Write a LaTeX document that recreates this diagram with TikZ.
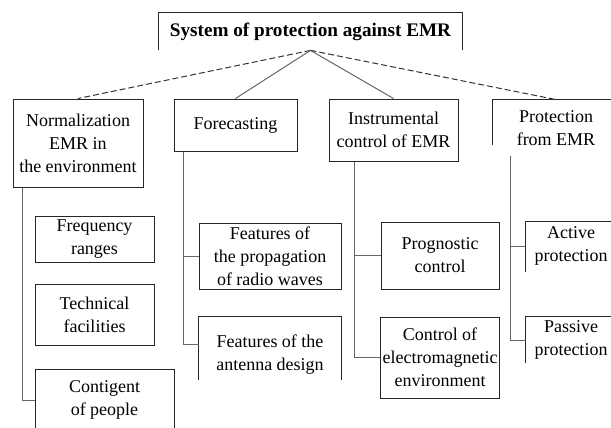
\documentclass[tikz,border=0pt]{standalone}
\usepackage{fontspec}
\setmainfont{Liberation Serif}

\begin{document}
\begin{tikzpicture}[x=0.5pt,y=-0.5pt,
        font=\fontsize{9}{11.5}\selectfont,inner sep=1pt,
        every node/.style={align=center},
        box/.style={draw=black!85,line width=0.5pt},
        link/.style={draw=black!60,line width=0.5pt},
        dlink/.style={draw=black!80,line width=0.5pt,dash pattern=on 3pt off 1.5pt}]

    \useasboundingbox (0,0) rectangle (611,428);
    \clip (0,0) rectangle (611,428);

    % top
    \node (root) at (310.5,31.5) [minimum width=151.5pt,minimum height=18.5pt,
          font=\fontsize{9.6}{11.5}\selectfont\bfseries] {System of protection against EMR};
    \draw[box] (root.south west) -- (root.north west) -- (root.north east) -- (root.south east);

    % first level
    \node[box,minimum width=65pt,minimum height=44pt] (norm) at (78,143) {Normalization\\EMR in\\the environment};
    \node[box,minimum width=61.5pt,minimum height=26pt] (fore) at (235.5,125) {Forecasting};
    \node[box,minimum width=64.5pt,minimum height=31pt] (instr) at (393.5,130) {Instrumental\\control of EMR};
    \node[minimum width=63pt,minimum height=28pt] (prot) at (556,128) {Protection\\from EMR};
    \draw[box] (prot.north east) -- (prot.north west) -- ++(0,45);

    \draw[dlink] (root.south) -- (norm.north);
    \draw[link] (root.south) -- (fore.north);
    \draw[link] (root.south) -- (instr.north);
    \draw[dlink] (root.south) -- (prot.north);

    % second level
    \node[box,minimum width=59.5pt,minimum height=23pt] (freq) at (94.5,239) {Frequency\\ranges};
    \node[box,minimum width=59.5pt,minimum height=30.5pt] (tech) at (94.5,314.5) {Technical\\facilities};
    \node[box,minimum width=69.5pt,minimum height=31pt] (cont) at (104.5,400) {Contigent\\of people};

    \node[box,minimum width=71pt,minimum height=33pt] (prop) at (270,256) {Features of\\the propagation\\of radio waves};
    \node[minimum width=71pt,minimum height=38pt] (ant) at (270,355) {Features of the\\antenna design};
    \draw[box] (ant.west |- 0,380) -- (ant.north west) -- (ant.north east) -- (ant.east |- 0,380);

    \node[box,minimum width=59pt,minimum height=33.5pt] (progn) at (440,255.5) {Prognostic\\control};
    \node[box,minimum width=59pt,minimum height=40.5pt] (ctrl) at (440,357.5) {Control of\\electromagnetic\\environment};

    \node[minimum width=45pt,minimum height=24pt] (act) at (571,246) {Active\\protection};
    \draw[box] (act.north east) -- (act.north west) -- ++(0,50);
    \node[minimum width=45pt,minimum height=23pt] (pass) at (571,340) {Passive\\protection};
    \draw[box] (pass.north east) -- (pass.north west) -- ++(0,46);

    \draw[link] ([xshift=5pt]norm.south west) |- (cont.west);
    \draw[link] ([xshift=5pt]fore.south west) |- (prop.west);
    \draw[link] ([xshift=5pt]fore.south west) |- ([yshift=5.5pt]ant.west);
    \draw[link] ([xshift=13pt]instr.south west) |- (progn.west);
    \draw[link] ([xshift=13pt]instr.south west) |- (ctrl.west);
    \draw[link] ([xshift=9pt]prot.south west) |- (act.west);
    \draw[link] ([xshift=9pt]prot.south west) |- (pass.west);
\end{tikzpicture}
\end{document}
